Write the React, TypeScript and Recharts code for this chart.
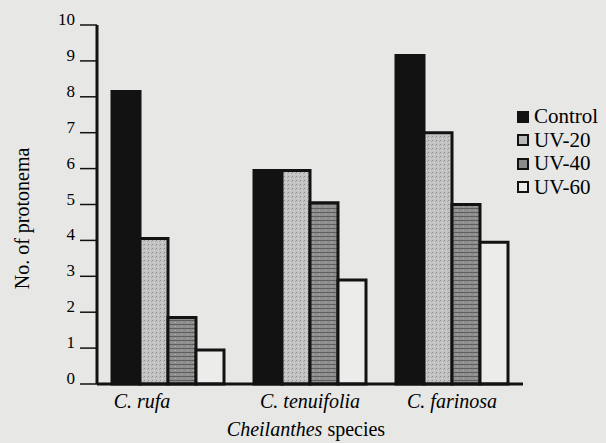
import { BarChart, Bar, XAxis, YAxis, Legend } from "recharts";

const species = ["C. rufa", "C. tenuifolia", "C. farinosa"];
const control = [8.15, 5.95, 9.15];
const uv20 = [4.05, 5.95, 7.0];
const uv40 = [1.85, 5.05, 5.0];
const uv60 = [0.95, 2.9, 3.95];
const yTicks = [0, 1, 2, 3, 4, 5, 6, 7, 8, 9, 10];

const seriesKeys = ["control", "uv20", "uv40", "uv60"];
const seriesNames = ["Control", "UV-20", "UV-40", "UV-60"];

const data = species.map((name, i) => ({
  name,
  control: control[i],
  uv20: uv20[i],
  uv40: uv40[i],
  uv60: uv60[i],
}));

const SERIF = "'Liberation Serif', 'DejaVu Serif', serif";
const PAPER = "#e7e7e5";
const INK = "#121212";
const TEXT = "#000";
const fills = [INK, "url(#uv20)", "url(#uv40)", "#ececea"];
const swatch = ["#121212", "#b8b8b8", "#8a8a8a", "#ececea"];

function YTick(props: any) {
  const { x, y, payload } = props;
  return (
    <text x={x} y={y} dy={0} textAnchor="end" fontFamily={SERIF} fontSize={17} fill={TEXT}>
      {payload.value}
    </text>
  );
}

function XTick(props: any) {
  const { x, y, payload, index } = props;
  // the first label sits left of its group in the original
  const shift = index === 0 ? -26 : 0;
  return (
    <text x={x + shift} y={y + 16} textAnchor="middle" fontFamily={SERIF} fontSize={20} fontStyle="italic" fill={TEXT}>
      {payload.value}
    </text>
  );
}

function LegendBox() {
  return (
    <div style={{ fontFamily: SERIF, fontSize: 21, color: TEXT, lineHeight: "23.5px" }}>
      {seriesNames.map((n, i) => (
        <div key={n} style={{ display: "flex", alignItems: "center", whiteSpace: "nowrap" }}>
          <span
            style={{
              display: "inline-block",
              width: 8,
              height: 8,
              background: swatch[i],
              border: `2.5px solid ${INK}`,
              marginRight: 5,
            }}
          />
          {n}
        </div>
      ))}
    </div>
  );
}

export default function App() {
  return (
    <div style={{ position: "absolute", left: 0, top: 0, width: 606, height: 443, background: PAPER }}>
      <BarChart
        width={606}
        height={443}
        data={data}
        margin={{ top: 25, right: 83, bottom: 0, left: 0 }}
        barSize={28}
        barGap={0}
      >
        <defs>
          <pattern id="uv20" width="4" height="4" patternUnits="userSpaceOnUse">
            <rect width="4" height="4" fill="#c3c3c3" />
            <rect x="0" y="0" width="1" height="1" fill="#8f8f8f" />
            <rect x="2" y="2" width="1" height="1" fill="#dcdcdc" />
            <rect x="3" y="1" width="1" height="1" fill="#a5a5a5" />
          </pattern>
          <pattern id="uv40" width="6" height="4" patternUnits="userSpaceOnUse">
            <rect width="6" height="4" fill="#8e8e8e" />
            <rect x="0" y="0" width="6" height="1" fill="#5e5e5e" />
            <rect x="1" y="2" width="1" height="1" fill="#b0b0b0" />
          </pattern>
        </defs>
        <XAxis
          dataKey="name"
          height={59}
          tickLine={false}
          axisLine={{ stroke: INK, strokeWidth: 3 }}
          tick={<XTick />}
          interval={0}
          label={{
            content: (p: any) => {
              const vb = p.viewBox || { x: 97, y: 384, width: 426 };
              return (
                <text x={vb.x + vb.width / 2 - 4} y={vb.y + 52} textAnchor="middle" fontFamily={SERIF} fontSize={20} fill={TEXT}>
                  <tspan fontStyle="italic">Cheilanthes</tspan>
                  <tspan> species</tspan>
                </text>
              );
            },
          }}
        />
        <YAxis
          width={97}
          domain={[0, 10]}
          ticks={yTicks}
          interval={0}
          tickSize={17}
          tickMargin={5}
          axisLine={{ stroke: INK, strokeWidth: 3 }}
          tickLine={{ stroke: INK, strokeWidth: 1.5 }}
          tick={<YTick />}
          label={{
            content: (p: any) => {
              const vb = p.viewBox || { x: 0, y: 25, height: 359 };
              const cx = vb.x + 29;
              const cy = vb.y + vb.height / 2 + 14;
              return (
                <text x={cx} y={cy} transform={`rotate(-90, ${cx}, ${cy})`} textAnchor="middle" fontFamily={SERIF} fontSize={20} fill={TEXT}>
                  No. of protonema
                </text>
              );
            },
          }}
        />
        <Legend
          layout="horizontal"
          verticalAlign="middle"
          align="center"
          content={<LegendBox />}
          wrapperStyle={{ position: "absolute", top: 105, left: 517, width: 95 }}
        />
        {seriesKeys.map((k, i) => (
          <Bar
            key={k}
            dataKey={k}
            name={seriesNames[i]}
            fill={fills[i]}
            stroke={INK}
            strokeWidth={3}
            isAnimationActive={false}
          />
        ))}
      </BarChart>
    </div>
  );
}
